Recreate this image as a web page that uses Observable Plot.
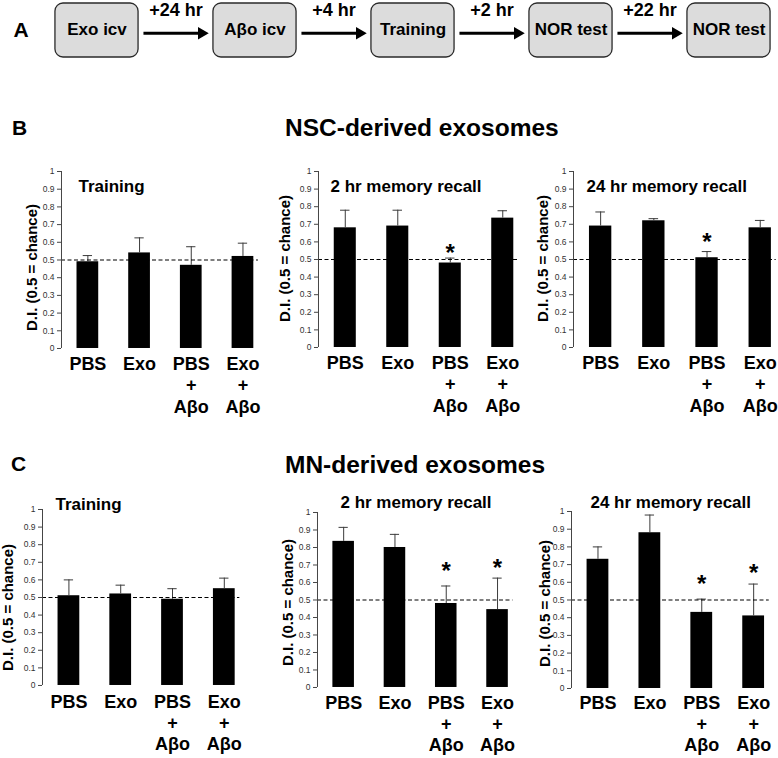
<!DOCTYPE html>
<html><head><meta charset="utf-8">
<script src="https://cdn.jsdelivr.net/npm/d3@7"></script>
<script src="https://cdn.jsdelivr.net/npm/@observablehq/plot@0.6"></script>
<style>
body{margin:0;background:#fff;font-family:"Liberation Sans",Arial,sans-serif;}
#fig{position:relative;width:778px;height:758px;overflow:hidden;background:#fff;}
.hdr{position:absolute;font-weight:bold;font-size:24.5px;line-height:1;white-space:nowrap;color:#000;}
.letter{position:absolute;font-weight:bold;font-size:21px;line-height:1;color:#000;}
</style></head><body><div id="fig"></div>
<script>
// ---------- data ----------
const steps = ["Exo icv", "Aβo icv", "Training", "NOR test", "NOR test"];
const intervals = ["+24 hr", "+4 hr", "+2 hr", "+22 hr"];
const groups = ["PBS", "Exo", "PBS\n+\nAβo", "Exo\n+\nAβo"];
const yTicks = [0, 0.1, 0.2, 0.3, 0.4, 0.5, 0.6, 0.7, 0.8, 0.9, 1];
const chance = 0.5;
const yLabel = "D.I. (0.5 = chance)";
const titles = ["Training", "2 hr memory recall", "24 hr memory recall"];

// NSC-derived exosomes
const nscTrainMean = [0.49, 0.54, 0.47, 0.52];
const nscTrainSem  = [0.035, 0.085, 0.105, 0.075];
const nscTrainStar = [null, null, null, null];
const nsc2hMean = [0.68, 0.69, 0.48, 0.735];
const nsc2hSem  = [0.10, 0.09, 0.028, 0.042];
const nsc2hStar = [null, null, 0.57, null];
const nsc24hMean = [0.69, 0.72, 0.51, 0.68];
const nsc24hSem  = [0.08, 0.012, 0.035, 0.042];
const nsc24hStar = [null, null, 0.63, null];

// MN-derived exosomes
const mnTrainMean = [0.51, 0.52, 0.49, 0.55];
const mnTrainSem  = [0.09, 0.05, 0.06, 0.06];
const mnTrainStar = [null, null, null, null];
const mn2hMean = [0.835, 0.80, 0.48, 0.445];
const mn2hSem  = [0.08, 0.075, 0.10, 0.18];
const mn2hStar = [null, null, 0.70, 0.715];
const mn24hMean = [0.73, 0.88, 0.43, 0.41];
const mn24hSem  = [0.07, 0.10, 0.075, 0.18];
const mn24hStar = [null, null, 0.62, 0.685];

// ---------- layout ----------
const FONT = "'Liberation Sans', Arial, sans-serif";
const fig = document.getElementById("fig");

function place(el, left, top) {
  el.style.position = "absolute";
  el.style.left = left + "px";
  el.style.top = top + "px";
  fig.appendChild(el);
}
function label(cls, text, left, top) {
  const d = document.createElement("div");
  d.className = cls; d.textContent = text;
  d.style.left = left + "px"; d.style.top = top + "px";
  fig.appendChild(d);
}

// Panel A: timeline
{
  const half = 0.263, gap = 0.294, tri = 0.044;
  const A = Plot.plot({
    width: 778, height: 62,
    marginLeft: 0, marginRight: 0, marginTop: 3, marginBottom: 5,
    x: {domain: [0, 4], range: [96.5, 728.5], axis: null},
    y: {domain: [0, 1], axis: null},
    style: {background: "transparent", overflow: "visible", fontFamily: FONT},
    marks: [
      Plot.rect(steps, {x1: (d, i) => i - half, x2: (d, i) => i + half, fill: "#dcdcdc", stroke: "#2a2a2a", strokeWidth: 1.3, rx: 8}),
      Plot.text(steps, {x: (d, i) => i, text: d => d, fontSize: 17, fontWeight: "bold", fill: "#000", dy: -1}),
      Plot.link(intervals, {x1: (d, i) => i + gap, x2: (d, i) => i + 1 - gap - tri, y1: 0.45, y2: 0.45, stroke: "#000", strokeWidth: 3}),
      Plot.dot(intervals, {x: (d, i) => i + 1 - gap - tri, y: 0.45, symbol: "triangle", rotate: 90, r: 4.6, fill: "#000", stroke: "none"}),
      Plot.text(intervals, {x: (d, i) => i + 0.5, text: d => d, frameAnchor: "top", lineAnchor: "top", dy: 0, fontSize: 18, fontWeight: "bold", fill: "#000"}),
      Plot.text(["A"], {text: d => d, frameAnchor: "left", textAnchor: "start", dx: 13, dy: 0, fontSize: 21, fontWeight: "bold", fill: "#000"})
    ]
  });
  place(A, 0, 0);
}

// Section headers
label("letter", "B", 12, 117);
label("hdr", "NSC-derived exosomes", 285, 116);
label("letter", "C", 11, 453);
label("hdr", "MN-derived exosomes", 285, 453);

function barPanel(p) {
  const xMin = -0.51, xMax = 3.3;
  const ML = Math.min(58, p.axis), MR = 2, MT = 32, MB = 78;
  const width = ML + (xMax - xMin) * p.step + MR;
  const height = MT + (p.y0 - p.y1) + MB;
  const idx = d3.range(groups.length);
  const starIdx = idx.filter(i => p.star[i] != null);
  const plot = Plot.plot({
    width, height, marginLeft: ML, marginRight: MR, marginTop: MT, marginBottom: MB,
    x: {type: "linear", domain: [xMin, xMax], axis: null},
    y: {domain: [0, 1]},
    style: {background: "transparent", overflow: "visible", fontFamily: FONT},
    marks: [
      Plot.rect(idx, {x1: i => i - 0.21, x2: i => i + 0.21, y1: 0, y2: i => p.mean[i], fill: "#000"}),
      Plot.ruleX(idx, {x: i => i, y1: i => p.mean[i], y2: i => p.mean[i] + p.sem[i], stroke: "#3a3a3a", strokeWidth: 1}),
      Plot.ruleY(idx, {y: i => p.mean[i] + p.sem[i], x1: i => i - 0.09, x2: i => i + 0.09, stroke: "#3a3a3a", strokeWidth: 1}),
      Plot.ruleY([chance], {stroke: "#000", strokeWidth: 1.1, strokeDasharray: "4,2.5"}),
      Plot.ruleX([xMin], {y1: 0, y2: 1, stroke: "#444", strokeWidth: 1}),
      Plot.axisY(yTicks, {tickSize: 4, tickPadding: 3, fontSize: 8.5, label: null, tickFormat: d => String(d), stroke: "#444", fill: "#333"}),
      Plot.text([yLabel], {text: d => d, frameAnchor: "left", textAnchor: "middle", rotate: -90, dx: p.labDx, dy: p.labDy, fontSize: 15, fontWeight: "bold", fill: "#000"}),
      Plot.text([p.title], {text: d => d, frameAnchor: "top-left", textAnchor: "start", lineAnchor: "bottom", dx: p.tDx, dy: p.tDy, fontSize: 17, fontWeight: "bold", fill: "#000"}),
      Plot.text(idx, {x: i => i, text: i => groups[i], frameAnchor: "bottom", lineAnchor: "top", dy: p.xDy, lineHeight: p.lh, fontSize: 18, fontWeight: "bold", fill: "#000"}),
      Plot.text(starIdx, {x: i => i, y: i => p.star[i], text: () => "*", fontSize: 24, fontWeight: "bold", fill: "#000", dy: 6})
    ]
  });
  place(plot, p.axis - ML, p.y1 - MT);
}

const panels = [
  {title: titles[0], mean: nscTrainMean, sem: nscTrainSem, star: nscTrainStar, axis: 61, step: 51.7, y1: 171, y0: 348, tDx: 17, tDy: 21, labDx: -29, labDy: 7.5, xDy: 7, lh: 1.17},
  {title: titles[1], mean: nsc2hMean, sem: nsc2hSem, star: nsc2hStar, axis: 318, step: 52.5, y1: 171, y0: 347, tDx: 12, tDy: 21, labDx: -33, labDy: -1, xDy: 7, lh: 1.17},
  {title: titles[2], mean: nsc24hMean, sem: nsc24hSem, star: nsc24hStar, axis: 573, step: 53.2, y1: 171, y0: 347, tDx: 13, tDy: 21, labDx: -30, labDy: -1, xDy: 7, lh: 1.17},
  {title: titles[0], mean: mnTrainMean, sem: mnTrainSem, star: mnTrainStar, axis: 42, step: 51.8, y1: 509, y0: 685, tDx: 13, tDy: 1, labDx: -34, labDy: 10, xDy: 8, lh: 1.16},
  {title: titles[1], mean: mn2hMean, sem: mn2hSem, star: mn2hStar, axis: 317, step: 51.3, y1: 512, y0: 687, tDx: 23, tDy: -4, labDx: -29, labDy: 2.5, xDy: 7, lh: 1.16},
  {title: titles[2], mean: mn24hMean, sem: mn24hSem, star: mn24hStar, axis: 571, step: 51.9, y1: 511, y0: 688, tDx: 19, tDy: -3, labDx: -26, labDy: 3.5, xDy: 6, lh: 1.16}
];
panels.forEach(barPanel);
</script>
</body></html>
